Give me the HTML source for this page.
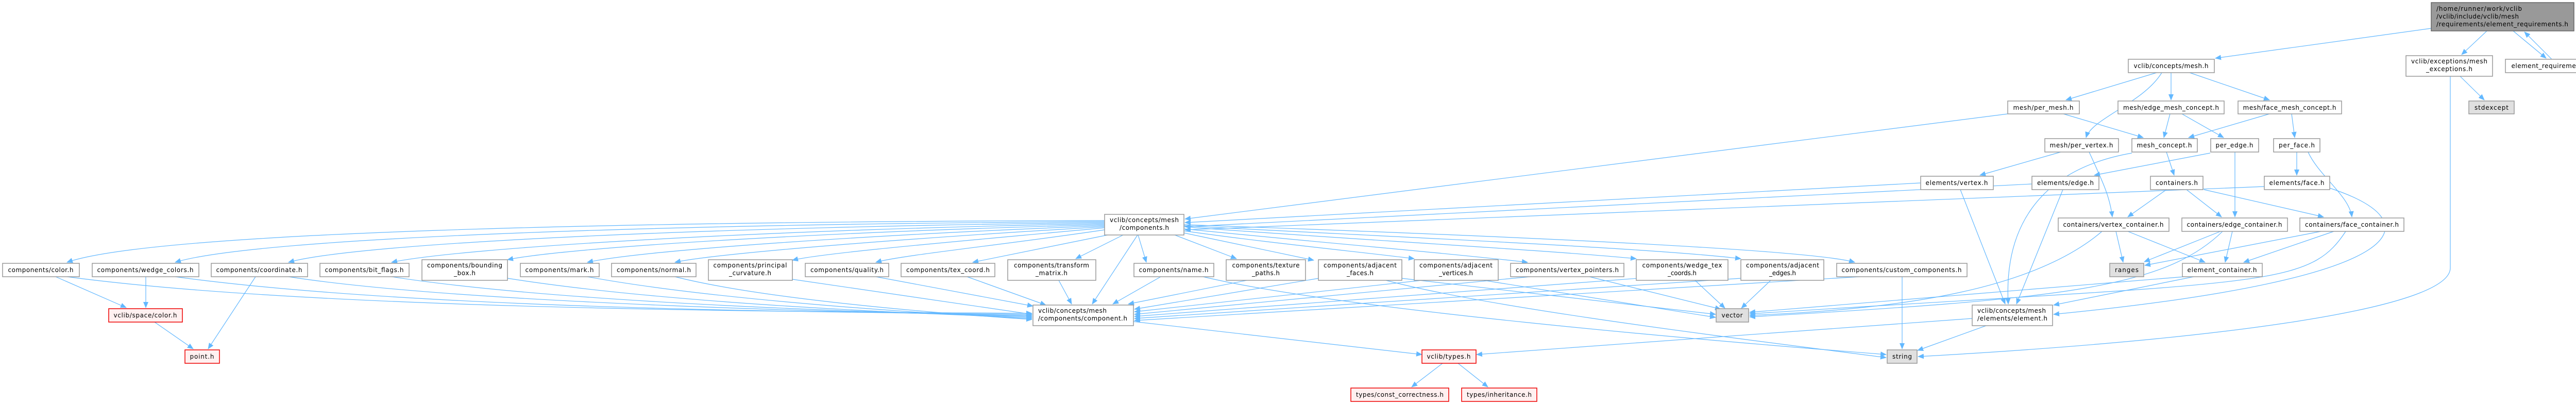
<!DOCTYPE html>
<html><head><meta charset="utf-8"><style>
html,body{margin:0;padding:0;background:#fff;overflow:hidden;width:5065px;height:784px;}
svg{display:block;}
text{font-family:"DejaVu Sans","Liberation Sans",sans-serif;font-size:12px;fill:#000;}
.n{fill:#fff;stroke:#999;stroke-width:1.5;}
.r{fill:#fff0f0;stroke:#e00;stroke-width:1.5;}
.g{fill:#e0e0e0;stroke:#999;stroke-width:1.5;}
.t{fill:#999;stroke:#666;stroke-width:1.5;}
.e{fill:none;stroke:#63b8ff;stroke-width:1.2;}
</style></head><body>
<svg width="5065" height="784" viewBox="0 0 5065 784" xmlns="http://www.w3.org/2000/svg">
<defs><marker id="a" markerWidth="12" markerHeight="10" refX="11" refY="5" orient="auto" markerUnits="userSpaceOnUse"><path d="M0,0 L12,5 L0,10 z" fill="#63b8ff"/></marker></defs>
<g class="e" marker-end="url(#a)">
<path d="M4719,55 L4300,113"/>
<path d="M4827,60 L4778,106"/>
<path d="M4878,60 L4942,113"/>
<path d="M4953,115 L4900,62"/>
<path d="M4775,148 L4822,194"/>
<path d="M4756,148 L4756,520 C4756,600 4300,660 3723,692"/>
<path d="M4186,141 L4010,194"/>
<path d="M4214,141 L4214,194"/>
<path d="M4250,141 L4405,194"/>
<path d="M4196,141 C4160,200 4060,230 4049,267"/>
<path d="M4005,221 L4160,267"/>
<path d="M3897,221 L2300,425"/>
<path d="M4212,221 L4200,267"/>
<path d="M4235,221 L4316,267"/>
<path d="M4405,221 L4248,267"/>
<path d="M4448,221 L4454,267"/>
<path d="M4000,295 L3843,340"/>
<path d="M4055,295 C4080,350 4095,380 4100,421"/>
<path d="M4205,295 L4220,340"/>
<path d="M4138,297 C3950,330 3890,450 3898,590"/>
<path d="M4290,297 L4065,340"/>
<path d="M4338,295 L4338,421"/>
<path d="M4458,295 L4458,340"/>
<path d="M4480,295 C4500,340 4560,380 4565,421"/>
<path d="M3728,355 L2300,432"/>
<path d="M3805,368 L3892,590"/>
<path d="M3944,357 L2300,440"/>
<path d="M4004,368 L3914,590"/>
<path d="M4395,362 L2300,446"/>
<path d="M4522,365 C4720,430 4700,540 3986,610"/>
<path d="M4205,368 L4130,421"/>
<path d="M4244,368 L4312,421"/>
<path d="M4278,368 L4510,421"/>
<path d="M4107,449 L4121,509"/>
<path d="M4130,449 L4280,509"/>
<path d="M4080,449 C3950,560 3700,600 3396,612"/>
<path d="M4310,449 L4162,508"/>
<path d="M4333,449 L4319,509"/>
<path d="M4314,449 C4200,560 4000,580 3396,615"/>
<path d="M4505,449 L4163,515"/>
<path d="M4530,449 L4355,509"/>
<path d="M4553,449 C4480,560 4400,545 3396,609"/>
<path d="M4240,537 L3396,606"/>
<path d="M4258,537 L3986,592"/>
<path d="M3855,632 L3722,680"/>
<path d="M3828,618 L2866,688"/>
<path d="M2208,456 L2120,590"/>
<path d="M2200,624 L2760,688"/>
<path d="M2800,705 L2740,751"/>
<path d="M2830,705 L2888,751"/>
<path d="M300,625 L375,677"/>
<path d="M108,537 L245,597"/>
<path d="M283,537 L283,597"/>
<path d="M496,537 L404,677"/>
<path d="M3692,537 L3692,677"/>
<path d="M2335,537 C2600,600 3300,660 3661,688"/>
<path d="M2690,544 C2900,600 3400,660 3661,694"/>
<path d="M2720,540 L3330,610"/>
<path d="M2880,544 L3330,616"/>
<path d="M3085,537 L3340,600"/>
<path d="M3290,544 L3348,598"/>
<path d="M3437,544 L3380,598"/>
<path d="M2144,428 C1200,430 300,450 130,509"/>
<path d="M2144,430 C1300,435 500,460 340,509"/>
<path d="M2144,432 C1400,440 700,470 560,509"/>
<path d="M2144,434 C1500,445 900,480 760,509"/>
<path d="M2144,436 C1600,450 1100,480 985,504"/>
<path d="M2144,438 C1700,455 1250,485 1140,509"/>
<path d="M2144,440 C1800,460 1400,490 1310,509"/>
<path d="M2144,442 C1900,465 1600,490 1538,505"/>
<path d="M2144,446 C1950,475 1750,495 1700,509"/>
<path d="M2150,456 L1888,509"/>
<path d="M2180,456 L2088,502"/>
<path d="M2209,456 L2225,509"/>
<path d="M2280,456 L2400,502"/>
<path d="M2298,452 L2550,505"/>
<path d="M2298,448 C2450,470 2650,490 2745,502"/>
<path d="M2298,444 C2500,465 2800,490 2965,509"/>
<path d="M2298,440 C2550,460 3000,485 3176,502"/>
<path d="M2298,438 C2600,455 3200,480 3379,502"/>
<path d="M2298,436 C2700,450 3500,480 3600,509"/>
<path d="M130,537 C600,600 1500,605 2003,608"/>
<path d="M340,537 C800,600 1600,606 2003,610"/>
<path d="M560,537 C900,590 1700,608 2003,612"/>
<path d="M760,537 C1100,590 1750,608 2003,614"/>
<path d="M985,540 C1300,590 1800,610 2003,616"/>
<path d="M1140,537 C1400,585 1850,612 2003,618"/>
<path d="M1310,537 C1500,585 1880,612 2003,620"/>
<path d="M1538,542 L2003,610"/>
<path d="M1700,537 L2005,594"/>
<path d="M1877,537 L2030,592"/>
<path d="M2055,544 L2080,590"/>
<path d="M2253,537 L2160,590"/>
<path d="M2420,544 L2190,590"/>
<path d="M2560,540 L2202,600"/>
<path d="M2760,544 L2202,605"/>
<path d="M2970,537 L2202,610"/>
<path d="M3180,540 L2202,614"/>
<path d="M3380,540 L2202,618"/>
<path d="M3610,537 L2202,622"/>
</g>
<g>
<rect class="t" x="4719" y="5" width="277" height="55"/>
<text x="4729" y="21" textLength="166">/home/runner/work/vclib</text>
<text x="4729" y="36" textLength="160">/vclib/include/vclib/mesh</text>
<text x="4729" y="51" textLength="256">/requirements/element_requirements.h</text>
<rect class="n" x="4131" y="115" width="167" height="26"/><text x="4214" y="132" text-anchor="middle" textLength="145">vclib/concepts/mesh.h</text>
<rect class="n" x="4670" y="108" width="168" height="40"/><text x="4754" y="123" text-anchor="middle" textLength="148">vclib/exceptions/mesh</text><text x="4754" y="138" text-anchor="middle" textLength="90">_exceptions.h</text>
<rect class="n" x="4863" y="115" width="197" height="26"/><text x="4961" y="132" text-anchor="middle" textLength="173">element_requirements.cpp</text>
<rect class="g" x="4792" y="196" width="88" height="25"/><text x="4836" y="213" text-anchor="middle" textLength="66">stdexcept</text>
<rect class="n" x="3897" y="196" width="139" height="25"/><text x="3966" y="213" text-anchor="middle" textLength="117">mesh/per_mesh.h</text>
<rect class="n" x="4111" y="196" width="206" height="25"/><text x="4214" y="213" text-anchor="middle" textLength="186">mesh/edge_mesh_concept.h</text>
<rect class="n" x="4344" y="196" width="201" height="25"/><text x="4444" y="213" text-anchor="middle" textLength="181">mesh/face_mesh_concept.h</text>
<rect class="n" x="3969" y="269" width="143" height="26"/><text x="4040" y="286" text-anchor="middle" textLength="123">mesh/per_vertex.h</text>
<rect class="n" x="4138" y="269" width="127" height="26"/><text x="4201" y="286" text-anchor="middle" textLength="107">mesh_concept.h</text>
<rect class="n" x="4291" y="269" width="93" height="26"/><text x="4337" y="286" text-anchor="middle" textLength="73">per_edge.h</text>
<rect class="n" x="4413" y="269" width="90" height="26"/><text x="4458" y="286" text-anchor="middle" textLength="70">per_face.h</text>
<rect class="n" x="3728" y="342" width="141" height="26"/><text x="3798" y="359" text-anchor="middle" textLength="121">elements/vertex.h</text>
<rect class="n" x="3944" y="342" width="130" height="26"/><text x="4009" y="359" text-anchor="middle" textLength="110">elements/edge.h</text>
<rect class="n" x="4174" y="342" width="102" height="26"/><text x="4225" y="359" text-anchor="middle" textLength="82">containers.h</text>
<rect class="n" x="4395" y="342" width="127" height="26"/><text x="4458" y="359" text-anchor="middle" textLength="107">elements/face.h</text>
<rect class="n" x="3995" y="423" width="215" height="26"/><text x="4102" y="440" text-anchor="middle" textLength="195">containers/vertex_container.h</text>
<rect class="n" x="4235" y="423" width="205" height="26"/><text x="4337" y="440" text-anchor="middle" textLength="185">containers/edge_container.h</text>
<rect class="n" x="4464" y="423" width="202" height="26"/><text x="4565" y="440" text-anchor="middle" textLength="182">containers/face_container.h</text>
<rect class="g" x="4095" y="511" width="66" height="26"/><text x="4128" y="528" text-anchor="middle" textLength="46">ranges</text>
<rect class="n" x="4236" y="511" width="155" height="26"/><text x="4313" y="528" text-anchor="middle" textLength="135">element_container.h</text>
<rect class="n" x="3828" y="592" width="156" height="40"/><text x="3838" y="607" textLength="133">vclib/concepts/mesh</text><text x="3838" y="622" textLength="136">/elements/element.h</text>
<rect class="g" x="3331" y="599" width="63" height="26"/><text x="3362" y="616" text-anchor="middle" textLength="41">vector</text>
<rect class="g" x="3663" y="679" width="58" height="26"/><text x="3692" y="696" text-anchor="middle" textLength="38">string</text>
<rect class="r" x="2760" y="679" width="105" height="26"/><text x="2812" y="696" text-anchor="middle" textLength="85">vclib/types.h</text>
<rect class="r" x="2622" y="753" width="190" height="26"/><text x="2717" y="770" text-anchor="middle" textLength="170">types/const_correctness.h</text>
<rect class="r" x="2837" y="753" width="146" height="26"/><text x="2910" y="770" text-anchor="middle" textLength="126">types/inheritance.h</text>
<rect class="r" x="211" y="599" width="143" height="26"/><text x="282" y="616" text-anchor="middle" textLength="123">vclib/space/color.h</text>
<rect class="r" x="359" y="679" width="67" height="26"/><text x="392" y="696" text-anchor="middle" textLength="47">point.h</text>
<rect class="n" x="2144" y="416" width="154" height="40"/><text x="2221" y="431" text-anchor="middle" textLength="134">vclib/concepts/mesh</text><text x="2221" y="446" text-anchor="middle" textLength="96">/components.h</text>
<rect class="n" x="2005" y="592" width="195" height="40"/><text x="2015" y="607" textLength="133">vclib/concepts/mesh</text><text x="2015" y="622" textLength="173">/components/component.h</text>
<rect class="n" x="5" y="511" width="149" height="26"/><text x="79" y="528" text-anchor="middle" textLength="127">components/color.h</text>
<rect class="n" x="179" y="511" width="207" height="26"/><text x="282" y="528" text-anchor="middle" textLength="187">components/wedge_colors.h</text>
<rect class="n" x="410" y="511" width="187" height="26"/><text x="503" y="528" text-anchor="middle" textLength="167">components/coordinate.h</text>
<rect class="n" x="621" y="511" width="173" height="26"/><text x="707" y="528" text-anchor="middle" textLength="153">components/bit_flags.h</text>
<rect class="n" x="819" y="504" width="166" height="40"/><text x="902" y="519" text-anchor="middle" textLength="146">components/bounding</text><text x="902" y="534" text-anchor="middle" textLength="42">_box.h</text>
<rect class="n" x="1010" y="511" width="153" height="26"/><text x="1086" y="528" text-anchor="middle" textLength="133">components/mark.h</text>
<rect class="n" x="1187" y="511" width="164" height="26"/><text x="1269" y="528" text-anchor="middle" textLength="144">components/normal.h</text>
<rect class="n" x="1375" y="504" width="163" height="40"/><text x="1456" y="519" text-anchor="middle" textLength="143">components/principal</text><text x="1456" y="534" text-anchor="middle" textLength="82">_curvature.h</text>
<rect class="n" x="1563" y="511" width="162" height="26"/><text x="1644" y="528" text-anchor="middle" textLength="142">components/quality.h</text>
<rect class="n" x="1749" y="511" width="182" height="26"/><text x="1840" y="528" text-anchor="middle" textLength="162">components/tex_coord.h</text>
<rect class="n" x="1956" y="504" width="171" height="40"/><text x="2041" y="519" text-anchor="middle" textLength="146">components/transform</text><text x="2041" y="534" text-anchor="middle" textLength="62">_matrix.h</text>
<rect class="n" x="2201" y="511" width="155" height="26"/><text x="2278" y="528" text-anchor="middle" textLength="135">components/name.h</text>
<rect class="n" x="2380" y="504" width="154" height="40"/><text x="2457" y="519" text-anchor="middle" textLength="131">components/texture</text><text x="2457" y="534" text-anchor="middle" textLength="54">_paths.h</text>
<rect class="n" x="2559" y="504" width="162" height="40"/><text x="2640" y="519" text-anchor="middle" textLength="142">components/adjacent</text><text x="2640" y="534" text-anchor="middle" textLength="52">_faces.h</text>
<rect class="n" x="2745" y="504" width="163" height="40"/><text x="2826" y="519" text-anchor="middle" textLength="142">components/adjacent</text><text x="2826" y="534" text-anchor="middle" textLength="66">_vertices.h</text>
<rect class="n" x="2932" y="511" width="220" height="26"/><text x="3042" y="528" text-anchor="middle" textLength="200">components/vertex_pointers.h</text>
<rect class="n" x="3176" y="504" width="178" height="40"/><text x="3265" y="519" text-anchor="middle" textLength="155">components/wedge_tex</text><text x="3265" y="534" text-anchor="middle" textLength="56">_coords.h</text>
<rect class="n" x="3379" y="504" width="161" height="40"/><text x="3460" y="519" text-anchor="middle" textLength="142">components/adjacent</text><text x="3460" y="534" text-anchor="middle" textLength="52">_edges.h</text>
<rect class="n" x="3565" y="511" width="253" height="26"/><text x="3691" y="528" text-anchor="middle" textLength="233">components/custom_components.h</text>
</g>
</svg>
</body></html>
